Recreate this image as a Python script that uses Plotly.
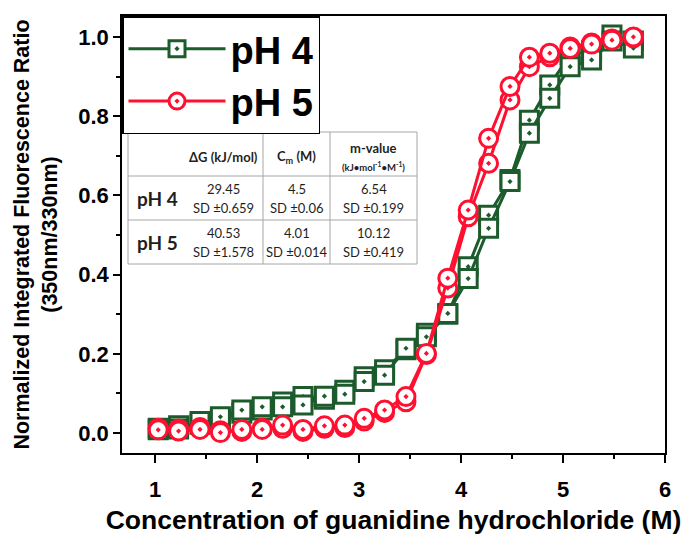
import plotly.graph_objects as go

# ---- data ----
conc = [1.03, 1.23, 1.44, 1.64, 1.85, 2.05, 2.25, 2.45, 2.66, 2.86, 3.05, 3.25,
        3.46, 3.66, 3.87, 4.07, 4.27, 4.48, 4.67, 4.87, 5.07, 5.28, 5.48, 5.69]

ph4_rep1 = [0.008, 0.010, 0.029, 0.041, 0.058, 0.066, 0.066, 0.071, 0.093, 0.098, 0.130, 0.146,
            0.214, 0.243, 0.302, 0.390, 0.517, 0.635, 0.757, 0.845, 0.925, 0.942, 0.990, 0.972]
ph4_rep2 = [0.012, 0.018, 0.022, 0.035, 0.050, 0.058, 0.078, 0.092, 0.085, 0.108, 0.142, 0.160,
            0.210, 0.252, 0.300, 0.420, 0.550, 0.640, 0.790, 0.879, 0.955, 0.965, 1.005, 0.990]

ph5_rep1 = [0.008, 0.005, 0.009, 0.001, 0.009, 0.009, 0.020, 0.009, 0.018, 0.020, 0.037, 0.058,
            0.092, 0.201, 0.391, 0.563, 0.744, 0.875, 0.949, 0.959, 0.971, 0.982, 0.992, 1.000]
ph5_rep2 = [0.012, 0.010, 0.014, 0.006, 0.004, 0.012, 0.012, 0.004, 0.012, 0.014, 0.030, 0.052,
            0.079, 0.198, 0.366, 0.546, 0.681, 0.841, 0.925, 0.950, 0.975, 0.985, 0.995, 0.998]

series_names = ["pH 4", "pH 5"]

# table content
table_head = ["ΔG (kJ/mol)", "C<sub>m</sub> (M)", "m-value"]
table_head_unit = ["", "", "(kJ•mol<sup>-1</sup>•M<sup>-1</sup>)"]
table_rows = ["pH 4", "pH 5"]
table_values = [["29.45", "4.5", "6.54"], ["40.53", "4.01", "10.12"]]
table_sd = [["SD ±0.659", "SD ±0.06", "SD ±0.199"], ["SD ±1.578", "SD ±0.014", "SD ±0.419"]]

x_ticks = [1, 2, 3, 4, 5, 6]
y_ticks = [0.0, 0.2, 0.4, 0.6, 0.8, 1.0]

GREEN = "#1b5b2c"
RED = "#ff1030"
FONT = "Arial, Liberation Sans, sans-serif"
TFONT = "Lato, Open Sans, sans-serif"

W, H = 685, 535
ML, MR, MT, MB = 122, 20, 16, 82
PW, PH = W - ML - MR, H - MT - MB


def px(xp):
    return (xp - ML) / PW


def py(yp):
    return (H - MB - yp) / PH


fig = go.Figure()


def add_series(x, y, color, symbol, name, show):
    fig.add_trace(go.Scatter(
        x=x, y=y, mode="lines+markers", name=name, showlegend=show,
        legendgroup=name,
        line=dict(color=color, width=3),
        marker=dict(symbol=symbol, size=18, color="white",
                    line=dict(color=color, width=3)),
    ))


add_series(conc, ph4_rep2, GREEN, "square-dot", series_names[0], False)
add_series(conc, ph4_rep1, GREEN, "square-dot", series_names[0], True)
add_series(conc, ph5_rep2, RED, "circle-dot", series_names[1], False)
add_series(conc, ph5_rep1, RED, "circle-dot", series_names[1], True)

# ---- table (shapes + annotations) ----
col_edges = [128, 263, 330, 417]
row_edges = [132, 176, 220, 264]
label_cx = 157
val_cx = [223, 296.5, 373.5]
GRAY = "#a6a6a6"
shapes = [dict(type="rect", xref="paper", yref="paper",
               x0=px(col_edges[0]), x1=px(col_edges[-1]), y0=py(row_edges[-1]), y1=py(row_edges[0]),
               fillcolor="white", line=dict(color=GRAY, width=1), layer="above")]
for xe in col_edges[1:-1]:
    shapes.append(dict(type="line", xref="paper", yref="paper", x0=px(xe), x1=px(xe),
                       y0=py(row_edges[-1]), y1=py(row_edges[0]), line=dict(color=GRAY, width=1), layer="above"))
for ye in row_edges[1:-1]:
    shapes.append(dict(type="line", xref="paper", yref="paper", x0=px(col_edges[0]), x1=px(col_edges[-1]),
                       y0=py(ye), y1=py(ye), line=dict(color=GRAY, width=1), layer="above"))

annots = []


def txt(x, y, s, size, bold=False):
    annots.append(dict(xref="paper", yref="paper", x=px(x), y=py(y), text=s, showarrow=False,
                       xanchor="center", yanchor="middle",
                       font=dict(family=TFONT, size=size, color="#1f1f1f",
                                 weight="bold" if bold else "normal")))


for j, h in enumerate(table_head):
    if table_head_unit[j]:
        txt(val_cx[j], 148, h, 13, True)
        txt(val_cx[j], 166, table_head_unit[j], 9.5, True)
    else:
        txt(val_cx[j], 157, h, 13, True)
for i, r in enumerate(table_rows):
    top = row_edges[i + 1]
    txt(label_cx, top + 22, r, 19, True)
    for j in range(3):
        txt(val_cx[j], top + 13, table_values[i][j], 13)
        txt(val_cx[j], top + 32, table_sd[i][j], 13)

fig.update_layout(
    width=W, height=H,
    paper_bgcolor="white", plot_bgcolor="white",
    margin=dict(l=ML, r=MR, t=MT, b=MB),
    font=dict(family=FONT, color="black"),
    showlegend=True,
    shapes=shapes,
    annotations=annots,
    legend=dict(x=0, y=1, xanchor="left", yanchor="top",
                bgcolor="white", bordercolor="black", borderwidth=1.5,
                font=dict(family=FONT, size=38, color="black", weight="bold"),
                itemwidth=97, tracegroupgap=0),
    xaxis=dict(range=[0.675, 6.0], tickvals=x_ticks, ticktext=[str(v) for v in x_ticks],
               automargin=False,
               showgrid=False, zeroline=False, showline=True, linecolor="black", linewidth=1.5,
               mirror=True, ticks="outside", ticklen=8, tickwidth=1.5, tickcolor="black",
               tickfont=dict(size=22, weight="bold"), ticklabelstandoff=8,
               minor=dict(ticks="outside", dtick=0.5, ticklen=4, tickwidth=1.5, tickcolor="black"),
               title=dict(text="Concentration of guanidine hydrochloride (M)",
                          font=dict(size=26.5, weight="bold"), standoff=16)),
    yaxis=dict(range=[-0.0505, 1.053], tickvals=y_ticks, ticktext=[f"{v:.1f}" for v in y_ticks],
               automargin=False,
               showgrid=False, zeroline=False, showline=True, linecolor="black", linewidth=1.5,
               mirror=True, ticks="outside", ticklen=7, tickwidth=1.5, tickcolor="black",
               tickfont=dict(size=22, weight="bold"), ticklabelstandoff=0,
               minor=dict(ticks="outside", dtick=0.1, ticklen=4, tickwidth=1.5, tickcolor="black"),
               title=dict(text="Normalized Integrated Fluorescence Ratio<br>(350nm/330nm)",
                          font=dict(size=21.5, weight="bold"), standoff=15)),
)

fig.write_html("out.html")
